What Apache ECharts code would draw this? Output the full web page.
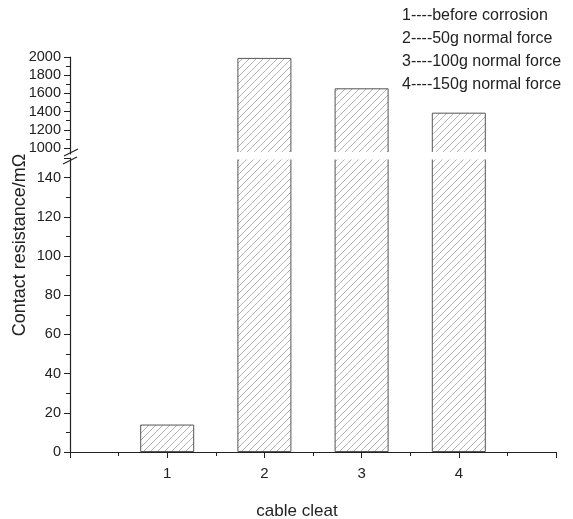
<!DOCTYPE html>
<html>
<head>
<meta charset="utf-8">
<script src="https://cdn.jsdelivr.net/npm/echarts@6/dist/echarts.min.js"></script>
<style>
  html, body { margin: 0; padding: 0; background: #fff; }
  #chart { width: 573px; height: 519px; }
</style>
</head>
<body>
<div id="chart"></div>
<script>
// cable cleat positions and measured contact resistance (mOhm)
const cleats = [1, 2, 3, 4];
const resistance = [14, 1990, 1656, 1388];
const legendLines = [
  '1----before corrosion',
  '2----50g normal force',
  '3----100g normal force',
  '4----150g normal force'
];
const upperTicks = [1000, 2000];   // labelled range of upper (broken) axis
const lowerTicks = [0, 150];

const FONT = '"Liberation Sans", Arial, sans-serif';

// diagonal hatch fill like the original plot
function makeHatch() {
  const c = document.createElement('canvas');
  c.width = 7; c.height = 7;
  const ctx = c.getContext('2d');
  ctx.strokeStyle = '#a0a0a0';
  ctx.lineWidth = 0.8;
  ctx.beginPath();
  ctx.moveTo(0, 7); ctx.lineTo(7, 0);
  ctx.moveTo(-1, 1); ctx.lineTo(1, -1);
  ctx.moveTo(6, 8); ctx.lineTo(8, 6);
  ctx.stroke();
  return c;
}
const hatch = { image: makeHatch(), repeat: 'repeat' };

const upperMin = 935;
const pairs = cleats.map((c, i) => [c, resistance[i]]);
const upperData = cleats.map((c, i) => resistance[i] >= upperMin ? [c, resistance[i]] : [c, null]);

const chart = echarts.init(document.getElementById('chart'));

const barStyle = {
  color: hatch,
  borderColor: '#555',
  borderWidth: 1
};
const tickLabel = { fontFamily: FONT, fontSize: 14.5, color: '#222' };

chart.setOption({
  animation: false,
  backgroundColor: '#fff',
  grid: [
    { left: 70, right: 17, top: 57, height: 96.9 },
    { left: 70, right: 17, top: 57, height: 91 },
    { left: 70, right: 17, top: 158, height: 294 }
  ],
  xAxis: [
    { gridIndex: 0, type: 'value', min: 0, max: 5, show: false },
    { gridIndex: 1, type: 'value', min: 0, max: 5, show: false },
    {
      gridIndex: 2, type: 'value', min: 0, max: 5, interval: 1,
      axisLine: { lineStyle: { color: '#222', width: 1.2 } },
      axisTick: { inside: false, length: 6, lineStyle: { color: '#222' } },
      minorTick: { show: true, splitNumber: 2, length: 4, lineStyle: { color: '#222' } },
      splitLine: { show: false },
      axisLabel: Object.assign({}, tickLabel, {
        margin: 14, fontSize: 15,
        formatter: v => (cleats.indexOf(v) >= 0 ? String(v) : '')
      })
    }
  ],
  yAxis: [
    {
      gridIndex: 0, type: 'value', min: upperMin, max: upperTicks[1],
      axisLine: { show: true, lineStyle: { color: '#222', width: 1.2 } },
      axisTick: { show: false }, axisLabel: { show: false }, splitLine: { show: false }
    },
    {
      gridIndex: 1, type: 'value', min: upperTicks[0], max: upperTicks[1], interval: 200,
      axisLine: { show: false },
      axisTick: { show: true, inside: false, length: 6, lineStyle: { color: '#222' } },
      minorTick: { show: true, splitNumber: 2, length: 4, lineStyle: { color: '#222' } },
      splitLine: { show: false },
      axisLabel: Object.assign({ margin: 9, formatter: v => String(v) }, tickLabel)
    },
    {
      gridIndex: 2, type: 'value', min: lowerTicks[0], max: lowerTicks[1], interval: 20,
      axisLine: { show: true, lineStyle: { color: '#222', width: 1.2 } },
      axisTick: { show: true, inside: false, length: 6, lineStyle: { color: '#222' } },
      minorTick: { show: true, splitNumber: 2, length: 4, lineStyle: { color: '#222' } },
      splitLine: { show: false },
      axisLabel: Object.assign({ margin: 9, showMaxLabel: false, formatter: v => String(v) }, tickLabel)
    }
  ],
  series: [
    {
      type: 'bar', xAxisIndex: 0, yAxisIndex: 0, clip: true,
      barWidth: 54, itemStyle: barStyle, data: upperData
    },
    {
      type: 'bar', xAxisIndex: 2, yAxisIndex: 2, clip: true,
      barWidth: 54, itemStyle: barStyle, data: pairs
    }
  ],
  graphic: [
    // white gap through the bars at the axis break
    { type: 'rect', z: 100, shape: { x: 72, y: 152, width: 490, height: 7.5 }, style: { fill: '#fff' } },
    // axis break marks
    { type: 'line', z: 101, shape: { x1: 64, y1: 156, x2: 78, y2: 149 }, style: { stroke: '#222', lineWidth: 1.2 } },
    { type: 'line', z: 101, shape: { x1: 63, y1: 164, x2: 77, y2: 157 }, style: { stroke: '#222', lineWidth: 1.2 } },
    {
      type: 'text', x: 20, y: 245, rotation: Math.PI / 2,
      style: {
        text: 'Contact resistance/mΩ', font: '18px ' + FONT, fill: '#222',
        align: 'center', verticalAlign: 'middle'
      }
    },
    {
      type: 'text', x: 297, y: 511,
      style: {
        text: 'cable cleat', font: '17px ' + FONT, fill: '#222',
        align: 'center', verticalAlign: 'middle'
      }
    },
    {
      type: 'text', x: 402, y: 4,
      style: {
        text: legendLines.join('\n'), font: '16px ' + FONT, fill: '#222',
        lineHeight: 23
      }
    }
  ]
});
</script>
</body>
</html>
